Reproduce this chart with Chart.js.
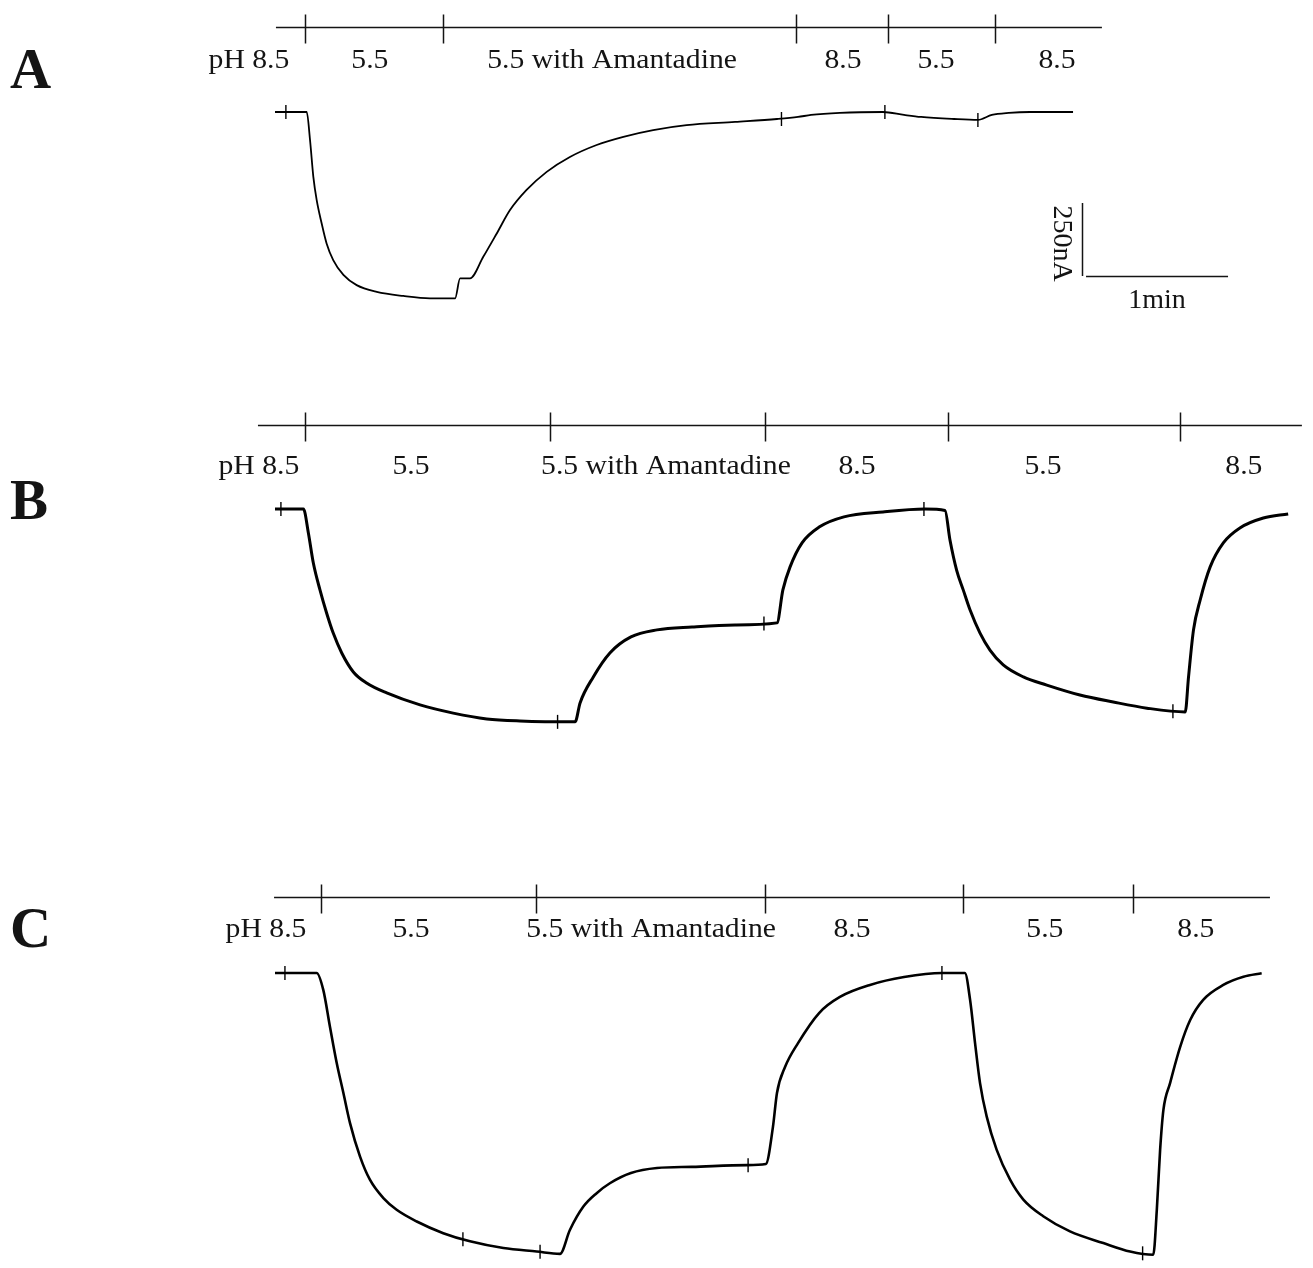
<!DOCTYPE html>
<html>
<head>
<meta charset="utf-8">
<script src="https://cdn.jsdelivr.net/npm/chart.js@4.4.1/dist/chart.umd.min.js"></script>
<style>
body{margin:0;background:#fff;}
#figure{position:relative;width:1313px;height:1268px;overflow:hidden;background:#fff;}
#figure canvas{position:absolute;left:0;}
</style>
</head>
<body>
<div id="figure">
<canvas id="panelA" width="1313" height="390" style="top:0px"></canvas>
<canvas id="panelB" width="1313" height="420" style="top:390px"></canvas>
<canvas id="panelC" width="1313" height="458" style="top:810px"></canvas>
</div>
<script>
// traces: time in s, current in nA (0 = pH 8.5 baseline)
const timeA = [0, 13.4, 14.8, 16.2, 17.6, 19.7, 21.8, 24.6, 28.9, 34.5, 43.0, 54.2, 65.5, 76.1, 78.2, 82.4, 88.0, 93.7, 99.3, 106.3, 114.8, 124.6, 135.9, 147.2, 159.8, 173.9, 194.4, 212.1, 221.0, 226.5, 238.7, 256.9, 265.8, 273.0, 286.9, 297.0, 302.9, 310.1, 319.0, 337.2];
const currA = [0, 0, -96, -222, -301, -381, -450, -507, -558, -593, -616, -630, -638, -638, -570, -570, -496, -416, -336, -267, -205, -154, -113, -85, -62, -45, -34, -24, -17, -10, -3, 0, -10, -17, -24, -27, -10, -3, 0, 0];

const timeB = [0, 12.0, 14.1, 16.2, 19.0, 21.8, 24.6, 28.2, 33.1, 38.7, 47.2, 61.3, 75.3, 89.5, 103.5, 126.8, 128.9, 134.5, 141.5, 150.4, 161.4, 176.2, 194.4, 212.1, 214.6, 217.6, 222.7, 229.9, 240.4, 256.9, 274.6, 283.1, 285.2, 288.0, 290.8, 293.7, 297.9, 302.1, 307.7, 316.2, 326.1, 340.1, 354.2, 368.4, 384.6, 386.0, 388.1, 390.9, 395.1, 400.7, 407.7, 417.6, 428.1];
const currB = [0, 0, -82, -185, -277, -356, -425, -493, -558, -596, -630, -671, -699, -719, -726, -729, -664, -575, -493, -438, -414, -404, -397, -390, -277, -199, -116, -62, -27, -10, 0, -5, -106, -209, -277, -346, -425, -483, -534, -575, -603, -637, -661, -682, -695, -575, -414, -312, -199, -116, -65, -31, -17];

const timeC = [0, 17.6, 20.4, 23.2, 26.1, 28.9, 31.7, 35.9, 40.1, 45.8, 51.4, 59.9, 71.1, 82.4, 96.5, 110.6, 120.4, 124.6, 130.3, 135.9, 141.5, 150.4, 161.4, 176.2, 199.4, 207.4, 210.4, 212.1, 215.5, 221.0, 229.9, 238.7, 251.4, 265.8, 281.8, 291.5, 293.7, 295.8, 297.9, 300.7, 304.9, 310.6, 316.2, 324.6, 335.9, 350.0, 361.3, 371.1, 372.6, 374.0, 375.4, 378.2, 382.5, 386.7, 392.2, 400.7, 409.2, 416.9];
const currC = [0, 0, -58, -183, -309, -411, -514, -628, -708, -771, -811, -851, -891, -919, -942, -954, -962, -880, -800, -754, -720, -685, -668, -664, -658, -654, -527, -411, -322, -240, -137, -82, -41, -14, 0, 0, -92, -240, -377, -491, -605, -708, -776, -833, -885, -925, -954, -965, -811, -605, -468, -377, -252, -161, -92, -41, -13, -1];

// small event marks on the traces
const markTimeA = [4.6, 214, 257.7, 297];
const markCurrA = [0, -24, 0, -27];
const markTimeB = [2.5, 119.4, 206.6, 274.2, 379.4];
const markCurrB = [0, -729, -392, 0, -693];
const markTimeC = [4.2, 79.4, 112, 199.9, 281.8, 366.6];
const markCurrC = [0, -912, -955, -658, 0, -960];

// solution bar: start/end and switch times (s)
const barA = [0.4, 349.4];
const switchA = [12.7, 71.0, 220.1, 259.0, 304.2];
const barB = [-7.2, 433.9];
const switchB = [12.7, 116.2, 207.0, 284.4, 382.4];
const barC = [-0.4, 420.4];
const switchC = [19.4, 110.3, 207.0, 290.7, 362.5];

const phLabels = ["pH 8.5", "5.5", "5.5 with Amantadine", "8.5", "5.5", "8.5"];
const labelTimeA = [-11.0, 40.1, 142.4, 240.0, 279.3, 330.4];
const labelTimeB = [-6.8, 57.5, 165.2, 245.9, 324.5, 409.4];
const labelTimeC = [-3.8, 57.5, 158.9, 243.8, 325.3, 389.1];

// scale bar
const scaleTime = 60;      // 1 min
const scaleCurr = 250;     // 250 nA
const scaleOrigin = [341.0, -562];

const PX_PER_S = 142 / 60;
const PX_PER_NA = 73 / 250;
const SERIF = "'Liberation Serif', 'Times New Roman', serif";

function pts(xs, ys){
    return xs.map((t, i) => ({x: t, y: ys[i]}));
}

function wideText(ctx, txt, x, y, sx){
    ctx.save();
    ctx.translate(x, y);
    ctx.scale(sx, 1);
    ctx.fillText(txt, 0, 0);
    ctx.restore();
}

function overlay(p){
    return {
        id: "overlay",
        afterDatasetsDraw(chart){
            const ctx = chart.ctx;
            const xs = chart.scales.x;
            const ys = chart.scales.y;
            const base = ys.getPixelForValue(0);
            const barY = Math.round(base - p.barOffset) + 0.5;

            ctx.save();
            ctx.strokeStyle = "#141414";
            ctx.lineWidth = 1.5;
            ctx.beginPath();
            ctx.moveTo(xs.getPixelForValue(p.bar[0]), barY);
            ctx.lineTo(xs.getPixelForValue(p.bar[1]), barY);
            p.switches.forEach(t => {
                const px = Math.round(xs.getPixelForValue(t)) + 0.5;
                ctx.moveTo(px, barY - 13);
                ctx.lineTo(px, barY + 16);
            });
            ctx.stroke();

            ctx.fillStyle = "#141414";
            ctx.textAlign = "center";
            ctx.textBaseline = "alphabetic";
            ctx.font = "28px " + SERIF;
            phLabels.forEach((txt, i) => {
                wideText(ctx, txt, xs.getPixelForValue(p.labelTimes[i]), base - p.labelOffset, 1.06);
            });

            ctx.textAlign = "left";
            ctx.font = "bold 57px " + SERIF;
            ctx.fillText(p.letter, 10, p.letterBase);

            if(p.scaleBar){
                const x0 = xs.getPixelForValue(scaleOrigin[0]);
                const y0 = ys.getPixelForValue(scaleOrigin[1]);
                const y1 = ys.getPixelForValue(scaleOrigin[1] + scaleCurr);
                const xh0 = x0 + 4;
                const xh1 = xs.getPixelForValue(scaleOrigin[0] + scaleTime) + 4;
                ctx.lineWidth = 1.5;
                ctx.beginPath();
                ctx.moveTo(Math.round(x0) + 0.5, y1);
                ctx.lineTo(Math.round(x0) + 0.5, y0);
                ctx.moveTo(xh0, Math.round(y0) + 0.5);
                ctx.lineTo(xh1, Math.round(y0) + 0.5);
                ctx.stroke();

                ctx.font = "28px " + SERIF;
                ctx.textAlign = "center";
                ctx.fillText("1min", (xh0 + xh1) / 2, y0 + 32);

                ctx.save();
                ctx.translate(x0 - 21, (y0 + y1) / 2 + 4);
                ctx.rotate(Math.PI / 2);
                ctx.textBaseline = "middle";
                ctx.fillText("250nA", 0, 0);
                ctx.restore();
            }
            ctx.restore();
        }
    };
}

const panels = [
    {id: "panelA", top: 0, height: 390, originX: 275, baseY: 112, barOffset: 85, labelOffset: 44,
     letter: "A", letterBase: 88, lineWidth: 1.8,
     time: timeA, curr: currA, markT: markTimeA, markI: markCurrA,
     bar: barA, switches: switchA, labelTimes: labelTimeA, scaleBar: true},
    {id: "panelB", top: 390, height: 420, originX: 275, baseY: 509, barOffset: 84, labelOffset: 35,
     letter: "B", letterBase: 129, lineWidth: 3,
     time: timeB, curr: currB, markT: markTimeB, markI: markCurrB,
     bar: barB, switches: switchB, labelTimes: labelTimeB, scaleBar: false},
    {id: "panelC", top: 810, height: 458, originX: 275, baseY: 973, barOffset: 76, labelOffset: 36,
     letter: "C", letterBase: 137, lineWidth: 2.6,
     time: timeC, curr: currC, markT: markTimeC, markI: markCurrC,
     bar: barC, switches: switchC, labelTimes: labelTimeC, scaleBar: false}
];

panels.forEach(p => {
    const yMax = (p.baseY - p.top) / PX_PER_NA;
    new Chart(document.getElementById(p.id), {
        type: "line",
        data: {
            datasets: [{
                data: pts(p.time, p.curr),
                borderColor: "#000",
                borderWidth: p.lineWidth,
                pointRadius: 0,
                cubicInterpolationMode: "monotone",
                fill: false
            }, {
                data: pts(p.markT, p.markI),
                showLine: false,
                pointStyle: "line",
                pointRotation: 90,
                pointRadius: 7,
                pointBorderWidth: 1.4,
                pointBorderColor: "#000"
            }]
        },
        options: {
            responsive: false,
            devicePixelRatio: 1,
            animation: false,
            layout: {padding: 0, autoPadding: false},
            plugins: {legend: {display: false}, tooltip: {enabled: false}},
            scales: {
                x: {type: "linear", display: false, min: -p.originX / PX_PER_S, max: (1313 - p.originX) / PX_PER_S},
                y: {type: "linear", display: false, min: yMax - p.height / PX_PER_NA, max: yMax}
            }
        },
        plugins: [overlay(p)]
    });
});
</script>
</body>
</html>
